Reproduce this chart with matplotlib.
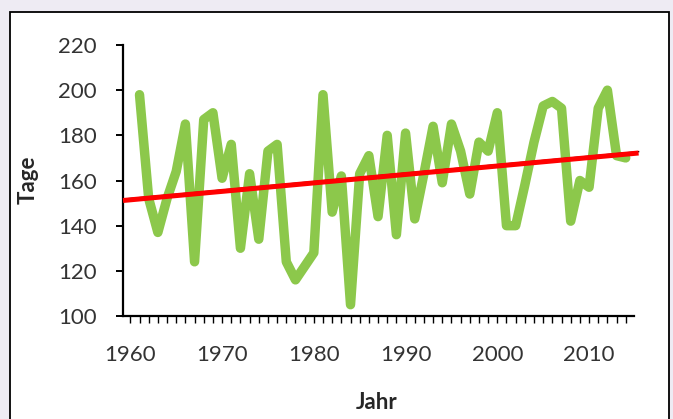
import numpy as np
import matplotlib.pyplot as plt
from matplotlib.patches import Rectangle

# Data
years = np.arange(1961, 2015)
tage = [198, 152, 137, 152, 164, 185, 124, 187, 190, 161,
        176, 130, 163, 134, 173, 176, 124, 116, 122, 128,
        198, 146, 162, 105, 163, 171, 144, 180, 136, 181,
        143, 163, 184, 159, 185, 173, 154, 177, 173, 190,
        140, 140, 158, 177, 193, 195, 192, 142, 160, 157,
        192, 200, 171, 170]
y_ticks = [100, 120, 140, 160, 180, 200, 220]
x_ticks = [1960, 1970, 1980, 1990, 2000, 2010]

plt.rcParams['font.family'] = ['Lato', 'DejaVu Sans']

fig = plt.figure(figsize=(6.73, 4.19), dpi=100)
fig.patch.set_facecolor('#eeebf3')

# white chart frame, behind everything
frame = Rectangle((10 / 673, -0.05), 659 / 673, 1 - 12 / 419 + 0.05,
                  transform=fig.transFigure, facecolor='white',
                  edgecolor='black', linewidth=1.3, zorder=-10)
fig.patches.append(frame)

ax = fig.add_axes([123 / 673, 1 - 316 / 419, 511 / 673, 271 / 419])
ax.set_facecolor('none')
ax.set_zorder(1)

ax.plot(years, tage, color='#8cc84b', linewidth=6.8, solid_joinstyle='round',
        solid_capstyle='round', zorder=2)

# linear trend
slope, inter = np.polyfit(years, tage, 1)
tx = np.array([1959.2, 2015.4])
ax.plot(tx, slope * tx + inter, color='black', linewidth=1.0, zorder=3,
        clip_on=False)
ax.plot(tx, slope * tx + inter - 0.6, color='#ff0000', linewidth=3.6, zorder=4,
        clip_on=False, solid_capstyle='butt')

ax.set_xlim(1959.2, 2014.9)
ax.set_ylim(100, 220)
ax.set_yticks(y_ticks)
ax.set_xticks(x_ticks)
ax.set_xticks(np.arange(1960, 2015), minor=True)

for s in ['top', 'right']:
    ax.spines[s].set_visible(False)
for s in ['left', 'bottom']:
    ax.spines[s].set_linewidth(1.6)

ax.tick_params(axis='y', direction='out', length=5, width=1.4, pad=14,
               labelsize=16, labelcolor='#333333')
ax.tick_params(axis='x', which='both', direction='out', length=5, width=1.0,
               pad=16, labelsize=16, labelcolor='#333333')

fig.text(28 / 673, 1 - 180 / 419, 'Tage', rotation=90, ha='center', va='center',
         fontsize=16, fontweight='bold', color='#262626')
fig.text(377 / 673, 1 - 402 / 419, 'Jahr', ha='center', va='center',
         fontsize=16, fontweight='bold', color='#262626')

fig.savefig('out.png', dpi=100, facecolor=fig.get_facecolor())
